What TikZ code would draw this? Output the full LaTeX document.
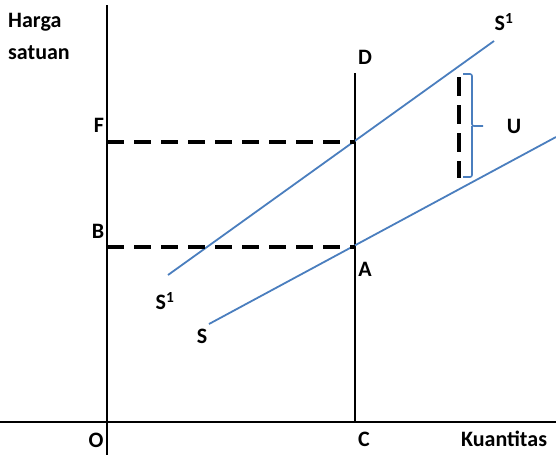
\documentclass[tikz,border=0pt]{standalone}
\usepackage{fontspec}
\setsansfont{Carlito}
\begin{document}
\begin{tikzpicture}[x=1pt,y=-1pt,
  axis/.style={line width=2pt,black},
  curve/.style={line width=1.8pt,color=sblue},
  guide/.style={line width=3.6pt,black,dash pattern=on 17pt off 10pt},
  lbl/.style={font=\sffamily\bfseries\fontsize{22}{26}\selectfont,inner sep=0pt,text=black}]
\definecolor{sblue}{RGB}{74,126,190}
\useasboundingbox (0,0) rectangle (556,456);
% axes
\coordinate (yTop) at (107,5);
\coordinate (yBot) at (107,455);
\coordinate (xL) at (0,422);
\coordinate (xR) at (556,422);
\coordinate (Dtop) at (355,73);
\coordinate (Cpt) at (355,422);
\draw[axis] (yTop) -- (yBot);
\draw[axis] (xL) -- (xR);
\draw[axis] (Dtop) -- (Cpt);
% supply curves
\coordinate (S1a) at (168,275);
\coordinate (S1b) at (494,41);
\coordinate (Sa) at (209,324);
\coordinate (Sb) at (556,137);
\draw[curve] (S1a) -- (S1b);
\draw[curve] (Sa) -- (Sb);
% dashed guides
\coordinate (Fax) at (107,142);
\coordinate (Fpt) at (355,142);
\coordinate (Bax) at (107,247);
\coordinate (Apt) at (355,247);
\draw[guide] (Fax) -- (Fpt);
\draw[guide] (Bax) -- (Apt);
\coordinate (Ut) at (459,77);
\coordinate (Ub) at (459,178);
\draw[guide,dash pattern=on 19pt off 9pt] (Ut) -- (Ub);
% brace
\coordinate (brT) at (463,74);
\coordinate (brB) at (463,177);
\coordinate (brM) at (483,126);
\draw[sblue,line width=1.6pt,rounded corners=2pt]
  (brT) -- (472,74) -- (472,126) -- (brM);
\draw[sblue,line width=1.6pt,rounded corners=2pt]
  (brB) -- (472,177) -- (472,126);
% labels
\node[lbl,anchor=west] (harga) at (8,22) {Harga};
\node[lbl,anchor=west] (satuan) at (8,53) {satuan};
\node[lbl] (labS1t) at (504,22) {S\textsuperscript{1}};
\node[lbl] (labD) at (365,57) {D};
\node[lbl] (labF) at (99,125) {F};
\node[lbl] (labB) at (98,231) {B};
\node[lbl] (labA) at (365,269) {A};
\node[lbl] (labS1b) at (165,301) {S\textsuperscript{1}};
\node[lbl] (labS) at (202,336) {S};
\node[lbl] (labU) at (514,126) {U};
\node[lbl] (labO) at (96,440) {O};
\node[lbl] (labC) at (364,439) {C};
\node[lbl] (labK) at (504,439) {Kuantitas};
\end{tikzpicture}
\end{document}
